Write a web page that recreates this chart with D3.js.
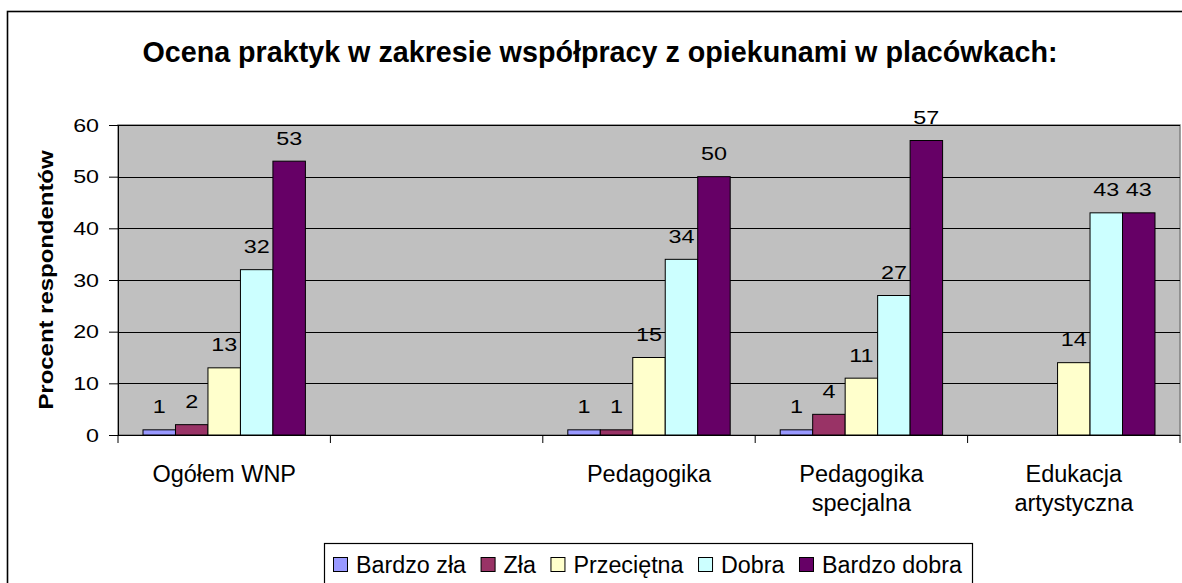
<!DOCTYPE html>
<html><head><meta charset="utf-8">
<script src="https://cdn.jsdelivr.net/npm/d3@7"></script>
<style>body{margin:0;background:#fff}svg{display:block;font-family:Arial,"Liberation Sans",sans-serif}</style>
</head><body>
<svg id="c" width="1182" height="583"></svg>
<script>
const categories = [["Ogółem WNP"], [""], ["Pedagogika"], ["Pedagogika","specjalna"], ["Edukacja","artystyczna"]];
const seriesNames = ["Bardzo zła","Zła","Przeciętna","Dobra","Bardzo dobra"];
const seriesColors = ["#9999FF","#993366","#FFFFCC","#CCFFFF","#660066"];
const bardzoZla   = [1, null, 1, 1, null];
const zla         = [2, null, 1, 4, null];
const przecietna  = [13, null, 15, 11, 14];
const dobra       = [32, null, 34, 27, 43];
const bardzoDobra = [53, null, 50, 57, 43];
const seriesValues = [bardzoZla, zla, przecietna, dobra, bardzoDobra];
const yTicks = [0,10,20,30,40,50,60];
const titleText = "Ocena praktyk w zakresie współpracy z opiekunami w placówkach:";
const yTitle = "Procent respondentów";

const FF = "Arial, Liberation Sans, sans-serif";
const svg = d3.select("#c");
const L = 118, R = 1180, T = 125, B = 435;

// outer border
svg.append("rect").attr("x",7.5).attr("y",11.5).attr("width",1182).attr("height",600)
  .attr("fill","none").attr("stroke","#000").attr("stroke-width",1.6);

svg.append("text").attr("x",600).attr("y",62).attr("text-anchor","middle")
  .attr("font-size",28.7).attr("font-weight","bold").text(titleText);

const x0 = d3.scaleBand().domain(d3.range(categories.length)).range([L,R]).padding(0);
const x1 = d3.scaleBand().domain(d3.range(seriesNames.length)).range([0,x0.bandwidth()])
  .paddingInner(0).paddingOuter(0.77);
const y = d3.scaleLinear().domain([0,60]).range([B,T]);

svg.append("rect").attr("x",L).attr("y",T).attr("width",R-L).attr("height",B-T)
  .attr("fill","#C0C0C0").attr("stroke","#808080").attr("stroke-width",1.5);

// gridlines
svg.append("g").selectAll("line").data(yTicks.filter(d=>d>0)).join("line")
  .attr("x1",L).attr("x2",R).attr("y1",d=>Math.round(y(d))+0.5).attr("y2",d=>Math.round(y(d))+0.5)
  .attr("stroke","#000").attr("stroke-width",1);

// bars
const g = svg.append("g");
seriesValues.forEach((vals,si)=>{
  vals.forEach((v,ci)=>{
    if(v==null) return;
    g.append("rect").attr("x",x0(ci)+x1(si)).attr("y",y(v)).attr("width",x1.bandwidth()).attr("height",y(0)-y(v))
      .attr("fill",seriesColors[si]).attr("stroke","#000").attr("stroke-width",1);
    g.append("text").attr("text-anchor","middle").attr("font-size",19).attr("fill","#000")
      .attr("transform",`translate(${x0(ci)+x1(si)+x1.bandwidth()/2},${y(v)-16.5}) scale(1.23,1)`).text(v);
  });
});

// y axis
const ya = d3.axisLeft(y).tickValues(yTicks).tickSize(9).tickPadding(10);
const yg = svg.append("g").attr("transform",`translate(${L},0)`).call(ya);
yg.selectAll("text").attr("font-size",17.5).attr("font-family",FF).attr("fill","#000")
  .attr("x",-19/1.33).attr("dy","0.36em")
  .attr("transform","scale(1.33,1)");
yg.selectAll("line,path").attr("stroke","#000");
yg.select(".domain").attr("d",`M0.5,${T}V${B}`);

// x axis
const xg = svg.append("g").attr("transform",`translate(0,${B})`);
xg.append("line").attr("x1",L).attr("x2",R).attr("y1",0.5).attr("y2",0.5).attr("stroke","#000");
const bounds = d3.range(categories.length+1).map(i=> i<categories.length ? x0(i) : R);
xg.selectAll(".tk").data(bounds).join("line").attr("class","tk")
  .attr("x1",d=>d).attr("x2",d=>d).attr("y1",0).attr("y2",8).attr("stroke","#000");
categories.forEach((lines,ci)=>{
  const t = xg.append("text").attr("text-anchor","middle").attr("font-size",23.5).attr("fill","#000")
    .attr("transform",`translate(${x0(ci)+x0.bandwidth()/2},0)`);
  lines.forEach((ln,i)=> t.append("tspan").attr("x",0).attr("y",47+i*28.5).text(ln));
});

// y title
svg.append("text").attr("transform",`translate(53,${(T+B)/2}) rotate(-90) scale(1.14,1)`).attr("text-anchor","middle")
  .attr("font-size",21).attr("font-weight","bold").text(yTitle);

// legend
const lg = svg.append("g");
lg.append("rect").attr("x",324.5).attr("y",543.5).attr("width",648).attr("height",45)
  .attr("fill","#fff").attr("stroke","#000").attr("stroke-width",1.2);
let lx = 333;
seriesNames.forEach((n,i)=>{
  lg.append("rect").attr("x",lx+0.5).attr("y",557.5).attr("width",14).attr("height",14)
    .attr("fill",seriesColors[i]).attr("stroke","#000");
  const t = lg.append("text").attr("x",lx+23).attr("y",573).attr("font-size",23.3).text(n);
  lx += 23 + t.node().getComputedTextLength() + 14.5;
});
</script>
</body></html>
